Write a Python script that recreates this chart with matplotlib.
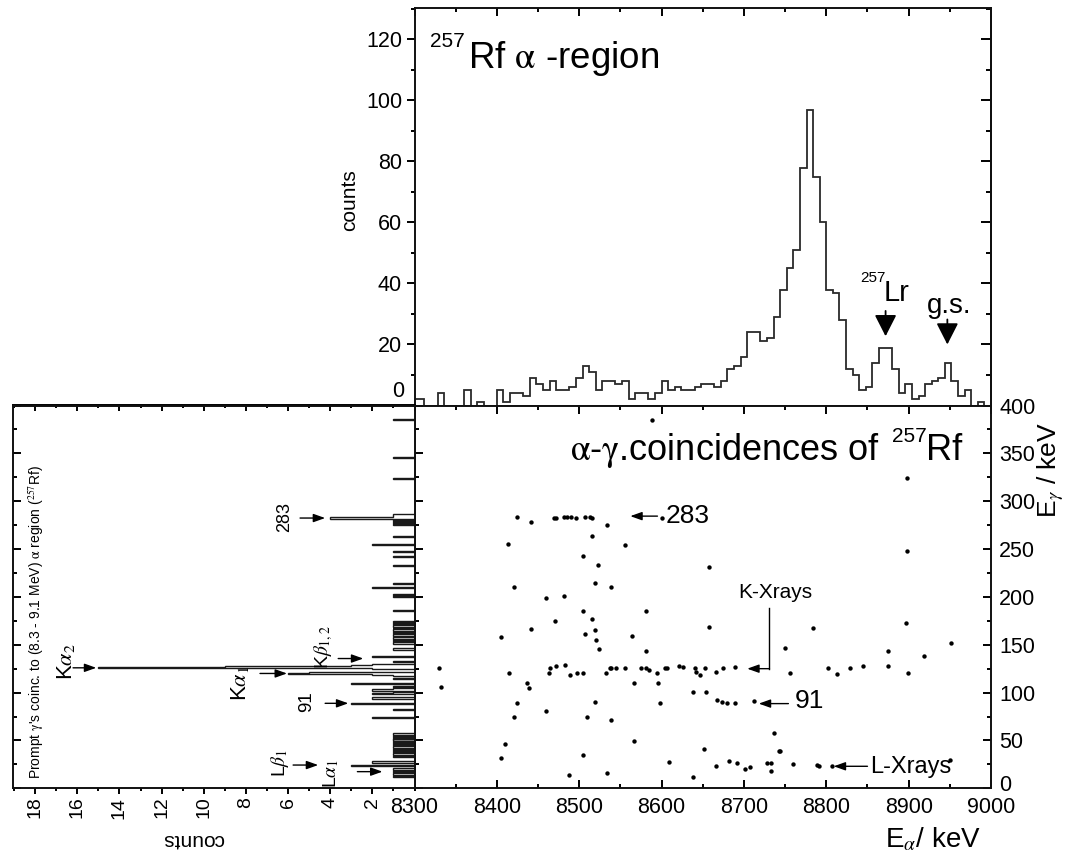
import numpy as np
import matplotlib
matplotlib.use("Agg")
import matplotlib.pyplot as plt
import matplotlib.transforms as mtransforms
from matplotlib.ticker import MultipleLocator, FixedLocator, FixedFormatter

plt.rcParams['font.family'] = ['Liberation Sans', 'DejaVu Sans']
plt.rcParams['mathtext.fontset'] = 'stix'

# ---------------- data ----------------
# alpha spectrum: 8 keV bins starting at 8296 keV
alpha_bin_start = 8296
alpha_bin_width = 8
alpha_counts = [2, 2, 0, 0, 4, 0, 0, 0, 5, 0, 1, 0, 0, 5, 1, 4, 4, 3, 9, 7,
                5, 8, 5, 5, 6, 9, 13, 11, 5, 8, 8, 7, 8, 2, 4, 4, 2, 4, 8, 5,
                6, 5, 5, 6, 7, 7, 6, 8, 12, 13, 16, 24, 24, 21, 22, 29, 38, 45, 51, 78,
                97, 75, 60, 38, 37, 28, 12, 10, 5, 6, 14, 19, 19, 12, 4, 7, 2, 3, 7, 8,
                9, 14, 8, 3, 5, 0, 1, 0]

# alpha-gamma coincidences (E_alpha keV, E_gamma keV)
coinc_e_alpha = [8588, 8424, 8442, 8469, 8472, 8482, 8485, 8490, 8496, 8507, 8513, 8515, 8534, 8601,
                 8515, 8414, 8556, 8657, 8505, 8523, 8519, 8421, 8538, 8460, 8482, 8504, 8581, 8470,
                 8516, 8657, 8442, 8405, 8507, 8519, 8564, 8520, 8524, 8581, 8330, 8332, 8415, 8464,
                 8463, 8472, 8483, 8489, 8497, 8505, 8532, 8537, 8539, 8545, 8556, 8575, 8581, 8585,
                 8595, 8604, 8607, 8621, 8626, 8641, 8642, 8647, 8653, 8666, 8675, 8689, 8436, 8439,
                 8566, 8596, 8638, 8654, 8667, 8673, 8679, 8689, 8712, 8424, 8519, 8598, 8421, 8460,
                 8510, 8538, 8410, 8405, 8566, 8505, 8651, 8609, 8682, 8666, 8488, 8534, 8638, 8691,
                 8701, 8707, 8728, 8733, 8733, 8759, 8789, 8791, 8807, 8737, 8742, 8744, 8898, 8898,
                 8784, 8750, 8756, 8802, 8813, 8829, 8845, 8875, 8875, 8897, 8899, 8919, 8951, 8950]
coinc_e_gamma = [385, 283, 278, 282, 282, 283, 283, 283, 282, 283, 284, 282, 275, 282,
                 264, 255, 254, 231, 243, 233, 215, 210, 210, 199, 201, 185, 185, 175,
                 177, 169, 166, 158, 161, 165, 159, 155, 146, 143, 126, 106, 121, 126,
                 120, 128, 129, 118, 120, 120, 120, 126, 126, 126, 126, 126, 126, 124,
                 120, 126, 126, 128, 127, 126, 122, 118, 126, 122, 126, 127, 110, 105,
                 110, 110, 101, 101, 92, 90, 89, 89, 91, 89, 90, 89, 74, 81,
                 74, 71, 46, 32, 49, 35, 41, 27, 29, 23, 14, 16, 12, 26,
                 20, 22, 26, 26, 18, 25, 24, 23, 23, 58, 39, 39, 324, 248,
                 167, 147, 121, 126, 119, 126, 128, 143, 128, 173, 121, 138, 152, 30]

# prompt gamma spectrum: 1 keV bins (lower edge) with non-zero counts
gamma_bin_keV = [12, 14, 15, 17, 19, 20, 23, 26, 27, 28,
                 33, 35, 36, 38, 40, 42, 43, 45, 47, 49, 50, 52, 54, 56, 57,
                 73, 82, 88, 93, 94, 99, 100, 102, 103, 104, 106, 109, 114,
                 117, 118, 119, 120, 121, 125, 126, 127, 128, 129, 132, 137,
                 144, 145, 146, 151, 152, 154, 156, 157, 159, 160, 162, 164, 165,
                 167, 169, 170, 172, 174, 185, 200, 202, 209, 214, 232, 242, 247,
                 254, 263, 275, 277, 279, 281, 282, 283, 284, 285, 286, 323, 345, 385]
gamma_bin_counts = [1, 1, 1, 1, 1, 1, 3, 2, 2, 2,
                    1, 1, 1, 1, 1, 1, 1, 1, 1, 1, 1, 1, 1, 1, 1,
                    2, 1, 3, 2, 2, 2, 1, 2, 2, 1, 1, 3, 1,
                    1, 2, 6, 5, 5, 2, 15, 9, 3, 2, 1, 2,
                    1, 1, 1, 1, 1, 1, 1, 1, 1, 1, 1, 1, 1,
                    1, 1, 1, 1, 1, 1, 1, 1, 2, 1, 1, 1, 1,
                    2, 1, 1, 1, 1, 4, 4, 4, 1, 1, 1, 1, 1, 1]

alpha_ticks = [8300, 8400, 8500, 8600, 8700, 8800, 8900, 9000]
gamma_ticks = [0, 50, 100, 150, 200, 250, 300, 350, 400]
count_ticks = [2, 4, 6, 8, 10, 12, 14, 16, 18]
top_count_ticks = [0, 20, 40, 60, 80, 100, 120]

# ---------------- figure ----------------
W, H = 1067, 856
fig = plt.figure(figsize=(W / 100, H / 100), dpi=100)


def box(x0, y0, x1, y1):
    return [x0 / W, 1 - y1 / H, (x1 - x0) / W, (y1 - y0) / H]


def P(x, y):
    return (x / W, 1 - y / H)


LW = 1.4
TL = 15.5
INK = '#111111'

ax_top = fig.add_axes(box(414.5, 8, 991, 405.5))
ax_sc = fig.add_axes(box(414.5, 405.5, 991, 788.3))
ax_l = fig.add_axes(box(13, 405.5, 414.5, 788.3))
for ax in (ax_top, ax_sc, ax_l):
    for s in ax.spines.values():
        s.set_linewidth(LW)
        s.set_color(INK)

# ---- top: alpha spectrum ----
edges = alpha_bin_start + alpha_bin_width * np.arange(len(alpha_counts) + 1)
ax_top.stairs(alpha_counts, edges, color='#2a2a2a', lw=1.3)
ax_top.set_xlim(8300, 9000)
ax_top.set_ylim(0, 130.3)
ax_top.xaxis.set_major_locator(MultipleLocator(100))
ax_top.xaxis.set_minor_locator(MultipleLocator(50))
ax_top.tick_params(axis='x', which='both', bottom=False, top=True, labelbottom=False,
                   direction='in', width=LW)
ax_top.tick_params(axis='x', which='major', length=5.5)
ax_top.tick_params(axis='x', which='minor', length=3)
ax_top.yaxis.set_major_locator(FixedLocator(top_count_ticks))
ax_top.yaxis.set_major_formatter(FixedFormatter([''] + [str(v) for v in top_count_ticks[1:]]))
ax_top.yaxis.set_minor_locator(MultipleLocator(10))
ax_top.tick_params(axis='y', which='both', left=True, right=False, direction='out',
                   labelsize=TL, width=LW, pad=3)
ax_top.tick_params(axis='y', which='major', length=6)
ax_top.tick_params(axis='y', which='minor', length=3)
sec = ax_top.secondary_yaxis('right')
sec.yaxis.set_major_locator(MultipleLocator(20))
sec.yaxis.set_minor_locator(MultipleLocator(10))
sec.tick_params(axis='y', which='both', direction='in', labelright=False, width=LW)
sec.tick_params(axis='y', which='major', length=7)
sec.tick_params(axis='y', which='minor', length=3.5)
sec.spines['right'].set_linewidth(LW)

fig.text(*P(404, 392), '0', fontsize=TL, ha='right', va='center')
fig.text(*P(350, 200), 'counts', fontsize=15, rotation=90, ha='center', va='center')
fig.text(*P(430, 47), '257', fontsize=15, ha='left', va='baseline')
fig.text(*P(468, 68.5), r'Rf $\mathrm{\alpha}$ -region', fontsize=26.5, ha='left', va='baseline')
fig.text(*P(860, 282), '257', fontsize=11, ha='left', va='baseline')
fig.text(*P(884, 301), 'Lr', fontsize=21, ha='left', va='baseline')
fig.text(*P(927, 313), 'g.s.', fontsize=20, ha='left', va='baseline')

big_head = dict(arrowstyle='-|>,head_length=0.55,head_width=0.28', color='k', lw=1.3,
                mutation_scale=24, shrinkA=0, shrinkB=0)
ax_top.annotate('', xy=(8872, 22.7), xytext=(8872, 31), arrowprops=big_head)
ax_top.annotate('', xy=(8947, 20), xytext=(8947, 28.2), arrowprops=big_head)

# ---- scatter ----
ax_sc.scatter(coinc_e_alpha, coinc_e_gamma, s=10, color='k', linewidths=0, zorder=3)
ax_sc.set_xlim(8300, 9000)
ax_sc.set_ylim(0, 400)
ax_sc.xaxis.set_major_locator(FixedLocator(alpha_ticks))
ax_sc.xaxis.set_major_formatter(FixedFormatter([str(v) for v in alpha_ticks]))
ax_sc.xaxis.set_minor_locator(MultipleLocator(50))
ax_sc.yaxis.set_major_locator(FixedLocator(gamma_ticks))
ax_sc.yaxis.set_major_formatter(FixedFormatter([str(v) for v in gamma_ticks]))
ax_sc.yaxis.set_minor_locator(MultipleLocator(25))
ax_sc.tick_params(which='both', direction='in', top=True, bottom=True, left=True, right=True,
                  labelleft=False, labelright=True, labelbottom=True, labelsize=TL, width=LW)
ax_sc.tick_params(axis='x', which='major', length=6, pad=6.5)
ax_sc.tick_params(axis='x', which='minor', length=3)
ax_sc.tick_params(axis='y', which='major', length=6, pad=6)
ax_sc.tick_params(axis='y', which='minor', length=3)

small_head = dict(arrowstyle='-|>,head_length=0.7,head_width=0.25', color='k', lw=1.0,
                  mutation_scale=10, shrinkA=0, shrinkB=0)
ax_sc.annotate('', xy=(8562, 284.4), xytext=(8595, 284.4), arrowprops=small_head)
ax_sc.plot([8731, 8731], [188, 125], color='k', lw=1.0)
ax_sc.annotate('', xy=(8704, 125), xytext=(8731, 125), arrowprops=small_head)
ax_sc.annotate('', xy=(8718, 88.5), xytext=(8754, 88.5), arrowprops=small_head)
ax_sc.annotate('', xy=(8809, 23), xytext=(8850, 23), arrowprops=small_head)

fig.text(*P(880, 460), r'$\mathrm{\alpha}$-$\mathrm{\gamma}$.coincidences of', fontsize=26,
         ha='right', va='baseline')
fig.text(*P(892, 442), '257', fontsize=15, ha='left', va='baseline')
fig.text(*P(926, 460), 'Rf', fontsize=26, ha='left', va='baseline')
fig.text(*P(666, 523), '283', fontsize=19, ha='left', va='baseline')
fig.text(*P(738, 598), 'K-Xrays', fontsize=15, ha='left', va='baseline')
fig.text(*P(795, 708), '91', fontsize=19, ha='left', va='baseline')
fig.text(*P(870, 773), 'L-Xrays', fontsize=17, ha='left', va='baseline')
fig.text(*P(885, 847), r'E$_{\alpha}$/ keV', fontsize=20, ha='left', va='baseline')
fig.text(*P(1036, 470), r'E$_{\gamma}$ / keV', fontsize=19, rotation=90, ha='left', va='center')

# ---- left: prompt gamma spectrum (rotated) ----
g_counts = np.zeros(400)
for e, c in zip(gamma_bin_keV, gamma_bin_counts):
    g_counts[e] = c
ax_l.stairs(g_counts, np.arange(401), orientation='horizontal', color='#1a1a1a', lw=1.0)
ax_l.set_xlim(19.05, 0)
ax_l.set_ylim(0, 400)
ax_l.xaxis.set_major_locator(FixedLocator(count_ticks))
ax_l.xaxis.set_major_formatter(FixedFormatter([str(v) for v in count_ticks]))
ax_l.xaxis.set_minor_locator(MultipleLocator(1))
ax_l.tick_params(axis='x', which='both', direction='out', bottom=True, top=False,
                 labelsize=14, labelrotation=90, width=LW, pad=2)
ax_l.tick_params(axis='x', which='major', length=4)
ax_l.tick_params(axis='x', which='minor', length=2)
ax_l.yaxis.set_major_locator(MultipleLocator(50))
ax_l.yaxis.set_minor_locator(MultipleLocator(25))
ax_l.tick_params(axis='y', which='both', direction='in', left=True, right=False,
                 labelleft=False, width=LW)
ax_l.tick_params(axis='y', which='major', length=6)
ax_l.tick_params(axis='y', which='minor', length=3)
secx = ax_l.secondary_xaxis('top')
secx.xaxis.set_major_locator(MultipleLocator(2))
secx.xaxis.set_minor_locator(MultipleLocator(1))
secx.tick_params(axis='x', which='both', direction='in', labeltop=False, width=LW)
secx.tick_params(axis='x', which='major', length=4)
secx.tick_params(axis='x', which='minor', length=2.5)
secx.spines['top'].set_linewidth(LW)

la_head = dict(arrowstyle='-|>,head_length=0.7,head_width=0.25', color='k', lw=1.0,
               mutation_scale=10, shrinkA=0, shrinkB=0)
for (x0, x1, e) in [(5.43, 4.24, 282.4), (16.2, 15.1, 125.9), (7.33, 6.05, 120),
                    (3.62, 2.43, 135.6), (4.24, 3.14, 88.8), (5.76, 4.57, 24.3), (2.71, 1.52, 17.4)]:
    ax_l.annotate('', xy=(x1, e), xytext=(x0, e), arrowprops=la_head)

fig.text(*P(36, 622), r"Prompt $\mathrm{\gamma}$'s coinc. to (8.3 - 9.1 MeV) $\mathrm{\alpha}$ region ($^{257}$Rf)",
         fontsize=10, rotation=90, ha='center', va='center')
fig.text(*P(285, 517), '283', fontsize=13, rotation=90, ha='center', va='center')
fig.text(*P(307, 702), '91', fontsize=13.5, rotation=90, ha='center', va='center')
fig.text(*P(66, 662), r'K$\alpha_2$', fontsize=16, rotation=90, ha='center', va='center')
fig.text(*P(240, 683), r'K$\alpha_1$', fontsize=16, rotation=90, ha='center', va='center')
fig.text(*P(324, 647), r'K$\beta_{1,2}$', fontsize=14, rotation=90, ha='center', va='center')
fig.text(*P(280, 763), r'L$\beta_1$', fontsize=14, rotation=90, ha='center', va='center')
fig.text(*P(331, 774), r'L$\alpha_1$', fontsize=14, rotation=90, ha='center', va='center')
fig.text(*P(193, 840), 'counts', fontsize=15, rotation=180, ha='center', va='center')

# nudge the right-hand "0" label slightly up so it does not touch "9000"
zero_tick = ax_sc.yaxis.get_major_ticks()[0]
zero_tick.label2.set_transform(zero_tick.label2.get_transform() +
                               mtransforms.ScaledTranslation(0, 3.5 / 72, fig.dpi_scale_trans))

fig.savefig('out.png', dpi=100)
